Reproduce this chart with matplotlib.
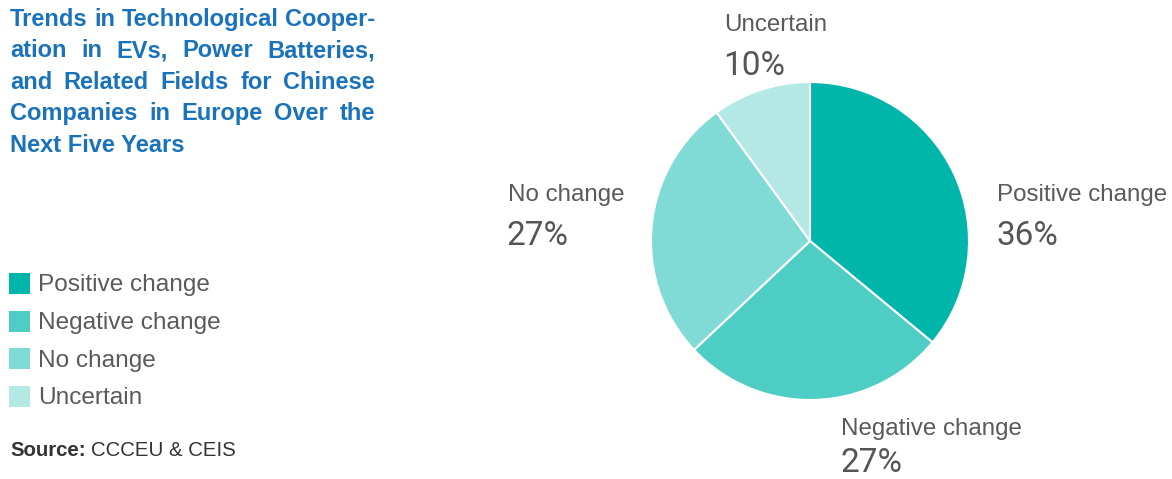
import matplotlib
matplotlib.use("Agg")
import matplotlib.pyplot as plt
from matplotlib.patches import Rectangle

W, H, DPI = 1172, 479, 100

# Survey result: expected trend of technological cooperation
categories = ["Positive change", "Negative change", "No change", "Uncertain"]
shares = [36, 27, 27, 10]
colors = ["#00b5aa", "#4ecdc4", "#80dbd6", "#b3e8e5"]

title_lines = [
    "Trends in Technological Cooper-",
    "ation in EVs, Power Batteries,",
    "and Related Fields for Chinese",
    "Companies in Europe Over the",
    "Next Five Years",
]
source_label = "Source:"
source_text = "CCCEU & CEIS"

TITLE_BLUE = "#1a73ba"
GRAY = "#5a5a5a"
DARK = "#333333"
SANS = ["Liberation Sans", "DejaVu Sans"]
NUMFONT = ["Roboto", "DejaVu Sans"]

fig = plt.figure(figsize=(W / DPI, H / DPI), dpi=DPI)


def fx(px):
    return px / W


def fy(py):
    return 1 - py / H


# --- pie -------------------------------------------------------------------
cx, cy, r = 810, 241, 159
ax = fig.add_axes([fx(cx - r), fy(cy + r), 2 * r / W, 2 * r / H])
ax.pie(shares, colors=colors, startangle=90, counterclock=False, radius=1,
       wedgeprops=dict(edgecolor="white", linewidth=1.5))
ax.set_xlim(-1, 1)
ax.set_ylim(-1, 1)
ax.axis("off")

# slice labels: (x, baseline of name, baseline of percentage) in pixels
label_pos = {
    "Positive change": (997, 201, 245),
    "Negative change": (841, 435, 472),
    "No change": (508, 201, 245),
    "Uncertain": (724, 31, 75),
}
for name, val in zip(categories, shares):
    x, yb1, yb2 = label_pos[name]
    fig.text(fx(x), fy(yb1), name, family=SANS, fontsize=17.4, color=GRAY,
             va="baseline", ha="left")
    fig.text(fx(x - 1), fy(yb2), f"{val}%", family=NUMFONT, fontsize=24,
             fontweight="normal", color="#555555", va="baseline", ha="left")

# --- justified title ---------------------------------------------------------
renderer = fig.canvas.get_renderer()
x0, x1 = 10, 375
base0, step = 26, 31.4
tkw = dict(family=SANS, fontsize=17, fontweight="bold", color=TITLE_BLUE,
           va="baseline", ha="left")
for i, line in enumerate(title_lines):
    y = fy(base0 + i * step)
    if i == len(title_lines) - 1:
        fig.text(fx(x0), y, line, **tkw)
        continue
    words = line.split()
    texts = [fig.text(0, y, w, **tkw) for w in words]
    widths = [t.get_window_extent(renderer).width for t in texts]
    gap = (x1 - x0 - sum(widths)) / (len(words) - 1)
    x = x0
    for t, w in zip(texts, widths):
        t.set_x(fx(x))
        x += w + gap

# --- legend ------------------------------------------------------------------
sq = 21
for i, (name, col) in enumerate(zip(categories, colors)):
    top = 273 + i * 37.5
    fig.add_artist(Rectangle((fx(9), fy(top + sq)), sq / W, sq / H,
                             transform=fig.transFigure, facecolor=col,
                             edgecolor="none"))
    fig.text(fx(38), fy(top + 18.5), name, family=SANS, fontsize=17.6,
             color=GRAY, va="baseline", ha="left")

# --- source ------------------------------------------------------------------
s1 = fig.text(fx(10), fy(456), source_label, family=SANS, fontsize=14.7,
              fontweight="bold", color=DARK, va="baseline", ha="left")
w1 = s1.get_window_extent(renderer).width
fig.text(fx(10 + w1 + 5), fy(456), source_text, family=SANS, fontsize=14.7,
         color=DARK, va="baseline", ha="left")

fig.savefig("out.png", dpi=DPI)
